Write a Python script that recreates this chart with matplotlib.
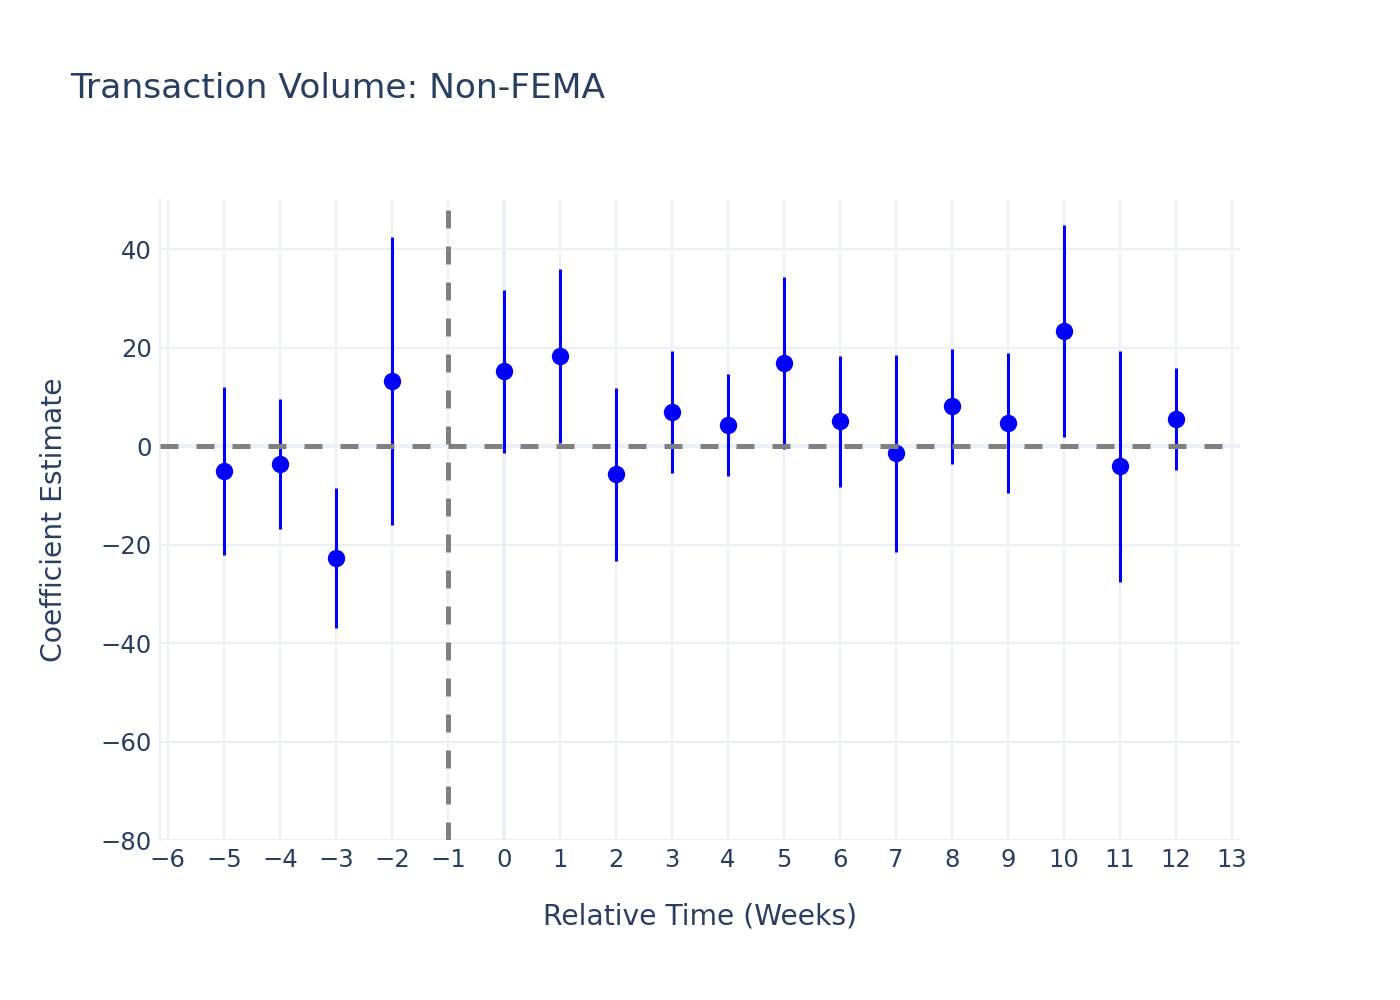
import matplotlib
matplotlib.use('Agg')
import matplotlib.pyplot as plt
import numpy as np

# event-study coefficients
rel_time = [-5, -4, -3, -2, 0, 1, 2, 3, 4, 5, 6, 7, 8, 9, 10, 11, 12]
coef = [-5.1, -3.7, -22.7, 13.2, 15.2, 18.3, -5.7, 6.9, 4.3, 16.9, 5.1, -1.4, 8.1, 4.7, 23.4, -4.1, 5.5]
ci_half = [17.1, 13.2, 14.2, 29.2, 16.6, 17.6, 17.6, 12.4, 10.3, 17.5, 13.3, 20.0, 11.7, 14.2, 21.5, 23.5, 10.4]

x_ticks = list(range(-6, 14))
y_ticks = [-80, -60, -40, -20, 0, 20, 40]

txt = '#2a3f5f'
grid = '#ebf0f8'

fig = plt.figure(figsize=(14, 10), dpi=100)
ax = fig.add_axes([160/1400, 160/1000, 1080/1400, 640/1000])

ax.errorbar(rel_time, coef, yerr=ci_half, fmt='o', color='#0000ff', ecolor='#0000ff',
            elinewidth=2.2, capsize=0, markersize=11.5, zorder=3)

# reference lines (drawn above the markers, as in the original)
ax.axhline(0, color='gray', lw=3.6, linestyle=(0, (3.6, 3.6)), zorder=4)
ax.plot([-1, -1], [48, -80], color='gray', lw=3.6, linestyle=(0, (3.6, 3.6)), zorder=4)

ax.set_xlim(-6.14, 13.14)
ax.set_ylim(-80, 50)
ax.set_xticks(x_ticks)
ax.set_yticks(y_ticks)
ax.grid(True, color=grid, lw=1.5, zorder=0)
ax.set_axisbelow(True)
ax.axvline(0, color=grid, lw=2.9, zorder=1)
ax.axhline(0, color=grid, lw=2.9, zorder=1)

for s in ['top', 'right', 'bottom']:
    ax.spines[s].set_visible(False)
ax.spines['left'].set_color(grid)
ax.spines['left'].set_linewidth(1.5)
ax.tick_params(length=0, labelsize=17.5, labelcolor=txt, pad=6)

ax.set_xlabel('Relative Time (Weeks)', fontsize=20.3, color=txt, labelpad=22)
ax.set_ylabel('Coefficient Estimate', fontsize=20.3, color=txt, labelpad=23)
fig.text(70/1400, 1 - 88/1000, 'Transaction Volume: Non-FEMA', fontsize=24.8,
         color=txt, va='center', ha='left')

fig.savefig('out.png', dpi=100, facecolor='white')
